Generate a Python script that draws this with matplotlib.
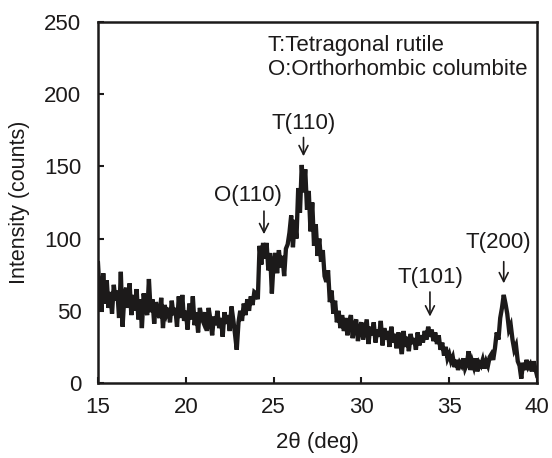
import numpy as np
import matplotlib
matplotlib.use("Agg")
import matplotlib.pyplot as plt

plt.rcParams['font.family'] = ['Liberation Sans', 'DejaVu Sans']

# Scan range and step (2θ, degrees)
two_theta_start = 15.0
two_theta_step = 0.1

# Measured intensity (counts), one value per 0.1° step from 15.0° to 40.0°
counts_15 = [83, 62, 50, 76, 55, 71, 52, 63, 48, 68]
counts_16 = [57, 64, 45, 77, 39, 60, 66, 52, 69, 47]
counts_17 = [61, 50, 65, 44, 58, 38, 62, 53, 47, 72]
counts_18 = [49, 58, 41, 56, 50, 45, 59, 38, 54, 48]
counts_19 = [52, 42, 57, 47, 52, 39, 60, 45, 61, 43]
counts_20 = [50, 37, 55, 44, 60, 40, 49, 35, 52, 45]
counts_21 = [42, 49, 36, 52, 44, 33, 46, 40, 50, 38]
counts_22 = [45, 32, 49, 41, 47, 36, 53, 44, 34, 23]
counts_23 = [42, 50, 43, 55, 47, 58, 50, 60, 54, 63]
counts_24 = [62, 58, 95, 82, 97, 86, 97, 78, 90, 62]
counts_25 = [84, 90, 76, 92, 80, 88, 74, 93, 96, 104]
counts_26 = [116, 94, 113, 100, 135, 118, 151, 132, 148, 120]
counts_27 = [133, 105, 125, 95, 110, 88, 100, 84, 92, 74]
counts_28 = [70, 78, 56, 64, 48, 57, 42, 50, 38, 47]
counts_29 = [36, 45, 33, 42, 47, 31, 40, 44, 29, 38]
counts_30 = [42, 30, 37, 44, 27, 39, 33, 42, 28, 37]
counts_31 = [32, 43, 26, 38, 30, 36, 25, 39, 28, 34]
counts_32 = [24, 35, 28, 20, 36, 25, 32, 22, 34, 27]
counts_33 = [31, 23, 35, 26, 33, 28, 36, 30, 39, 32]
counts_34 = [37, 29, 35, 27, 33, 23, 28, 19, 25, 17]
counts_35 = [20, 15, 18, 11, 16, 9, 14, 12, 17, 10]
counts_36 = [13, 22, 9, 15, 11, 17, 8, 14, 12, 16]
counts_37 = [10, 15, 12, 18, 20, 16, 24, 35, 30, 45]
counts_38 = [52, 61, 55, 48, 37, 40, 30, 23, 26, 15]
counts_39 = [12, 3, 14, 9, 16, 11, 13, 8, 15, 10]
counts_40 = [5]

intensity = np.array(
    counts_15 + counts_16 + counts_17 + counts_18 + counts_19 + counts_20
    + counts_21 + counts_22 + counts_23 + counts_24 + counts_25 + counts_26
    + counts_27 + counts_28 + counts_29 + counts_30 + counts_31 + counts_32
    + counts_33 + counts_34 + counts_35 + counts_36 + counts_37 + counts_38
    + counts_39 + counts_40, dtype=float)
two_theta = two_theta_start + two_theta_step * np.arange(len(intensity))

# Peak labels: (text, label x, label y, arrow x, arrow top y, arrow tip y)
peak_names = ["O(110)", "T(110)", "T(101)", "T(200)"]
peak_label_x = [23.55, 26.7, 33.9, 37.8]
peak_label_y = [130, 180, 73, 97]
peak_arrow_x = [24.45, 26.7, 33.9, 38.1]
peak_arrow_top = [119, 170, 63, 84]
peak_arrow_tip = [103, 157, 46, 69]

phase_legend = ["T:Tetragonal rutile", "O:Orthorhombic columbite"]

x_ticks = [15, 20, 25, 30, 35, 40]
y_ticks = [0, 50, 100, 150, 200, 250]

ink = "#1c1a1a"

fig = plt.figure(figsize=(5.52, 4.58), dpi=100)
ax = fig.add_axes([0.1775, 0.1638, 0.7955, 0.7882])

ax.plot(two_theta, intensity, color=ink, lw=3.1, solid_joinstyle="miter")

ax.set_xlim(15, 40)
ax.set_ylim(0, 250)
ax.set_xticks(x_ticks)
ax.set_yticks(y_ticks)
ax.tick_params(direction="in", length=4, width=1.5, labelsize=16,
               top=False, right=False, colors=ink)
ax.tick_params(axis="x", pad=10)
ax.tick_params(axis="y", pad=12)
for side in ax.spines.values():
    side.set_linewidth(1.8)
    side.set_color(ink)

ax.set_xlabel("2θ (deg)", fontsize=16, labelpad=10, color=ink)
ax.set_ylabel("Intensity (counts)", fontsize=15.5, labelpad=10, color=ink)

for name, lx, ly, axx, atop, atip in zip(peak_names, peak_label_x, peak_label_y,
                                          peak_arrow_x, peak_arrow_top, peak_arrow_tip):
    ax.text(lx, ly, name, ha="center", va="center", fontsize=16, color=ink)
    ax.annotate("", xy=(axx, atip), xytext=(axx, atop),
                arrowprops=dict(arrowstyle="->", lw=1.2, color=ink,
                                mutation_scale=16, shrinkA=0, shrinkB=0))

ax.text(24.7, 234, phase_legend[0], ha="left", va="center", fontsize=16, color=ink)
ax.text(24.7, 217, phase_legend[1], ha="left", va="center", fontsize=16, color=ink)

fig.savefig("out.png", dpi=100)
